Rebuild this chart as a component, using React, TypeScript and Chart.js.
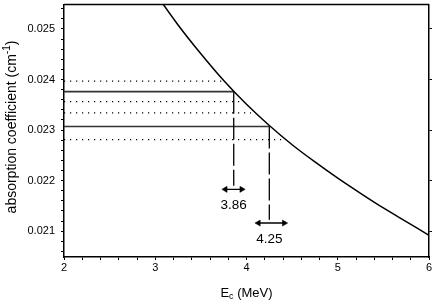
import { useEffect, useRef } from 'react';
import { Chart, registerables } from 'chart.js';

Chart.register(...registerables);

// Curve: absorption coefficient vs cut-off energy
const energies = [3.0, 3.25, 3.5, 3.75, 4.0, 4.25, 4.5, 4.75, 5.0, 5.25, 5.5, 5.75, 6.0];
const absorption = [0.02571, 0.02508, 0.02451, 0.02398, 0.02351, 0.02309, 0.02271, 0.02237, 0.02205, 0.02175, 0.02146, 0.02119, 0.02092];

// Marked points
const markE = [3.86, 4.25];
const markLabels = ['3.86', '4.25'];
const markA = [0.02376, 0.02307];
const aUpper = [0.02397, 0.02334];
const aLower = [0.023565, 0.02281];
const upperEnd = [3.74, 4.05];
const lowerEnd = [3.92, 4.4];
const dropEnd = [0.0219, 0.021225];
const arrowA = [0.021828, 0.021161];
const arrowLeft = [3.768, 4.131];
const arrowRight = [3.947, 4.413];

// Axes
const xMin = 2;
const xMax = 6;
const yMin = 0.02049;
const yMax = 0.025484;
const xTickLabels = ['2', '3', '4', '5', '6'];
const yTickLabels = ['0.021', '0.022', '0.023', '0.024', '0.025'];

const FONT = '"Liberation Sans", Arial, Helvetica, sans-serif';

function matchLabel(v: number, labels: string[]) {
  for (const l of labels) {
    if (Math.abs(parseFloat(l) - v) < 1e-8) return l;
  }
  return '';
}

const annotPlugin = {
  id: 'annot',
  afterDraw(chart: any) {
    const { ctx, chartArea: a, scales } = chart;
    ctx.save();
    // top frame line
    ctx.strokeStyle = '#000';
    ctx.lineWidth = 1.5;
    ctx.beginPath();
    ctx.moveTo(a.left, a.top);
    ctx.lineTo(a.right, a.top);
    ctx.stroke();

    ctx.fillStyle = '#000';
    ctx.textBaseline = 'middle';

    // Y title with superscript
    const main = 'absorption coefficient (cm';
    const sup = '-1';
    const close = ')';
    ctx.font = `14px ${FONT}`;
    const w1 = ctx.measureText(main).width;
    const w3 = ctx.measureText(close).width;
    ctx.font = `10px ${FONT}`;
    const w2 = ctx.measureText(sup).width;
    const total = w1 + w2 + w3;
    ctx.save();
    ctx.translate(12, 127);
    ctx.rotate(-Math.PI / 2);
    ctx.textAlign = 'left';
    const x0 = -total / 2;
    ctx.font = `14px ${FONT}`;
    ctx.fillText(main, x0, 0);
    ctx.font = `10px ${FONT}`;
    ctx.fillText(sup, x0 + w1, -5);
    ctx.font = `14px ${FONT}`;
    ctx.fillText(close, x0 + w1 + w2, 0);
    ctx.restore();

    // X title with subscript
    const e = 'E';
    const sub = 'c';
    const rest = ' (MeV)';
    ctx.font = `13px ${FONT}`;
    const ew = ctx.measureText(e).width;
    const rw = ctx.measureText(rest).width;
    ctx.font = `9px ${FONT}`;
    const sw = ctx.measureText(sub).width;
    const xt = (a.left + a.right) / 2 - (ew + sw + rw) / 2;
    const yt = 293;
    ctx.textAlign = 'left';
    ctx.font = `13px ${FONT}`;
    ctx.fillText(e, xt, yt);
    ctx.font = `9px ${FONT}`;
    ctx.fillText(sub, xt + ew, yt + 4);
    ctx.font = `13px ${FONT}`;
    ctx.fillText(rest, xt + ew + sw, yt);

    // mark labels
    ctx.textAlign = 'center';
    ctx.font = `13.5px ${FONT}`;
    for (let i = 0; i < markE.length; i++) {
      const px = scales.x.getPixelForValue(markE[i]);
      const py = scales.y.getPixelForValue(arrowA[i]) + 16;
      ctx.fillText(markLabels[i], px, py);
    }
    ctx.restore();
  },
};

export default function App() {
  const ref = useRef<HTMLCanvasElement>(null);

  useEffect(() => {
    document.body.style.margin = '0';
    const canvas = ref.current;
    if (!canvas) return;

    const datasets: any[] = [];
    datasets.push({
      data: energies.map((x, i) => ({ x, y: absorption[i] })),
      borderColor: '#000',
      borderWidth: 1.5,
      pointRadius: 0,
      cubicInterpolationMode: 'monotone',
      fill: false,
    });
    for (let i = 0; i < markE.length; i++) {
      datasets.push({
        data: [{ x: xMin, y: markA[i] }, { x: markE[i], y: markA[i] }],
        borderColor: '#333',
        borderWidth: 1.6,
        pointRadius: 0,
      });
      datasets.push({
        data: [{ x: xMin, y: aUpper[i] }, { x: upperEnd[i], y: aUpper[i] }],
        borderColor: '#000',
        borderWidth: 1.2,
        borderDash: [1.2, 4.8],
        pointRadius: 0,
      });
      datasets.push({
        data: [{ x: xMin, y: aLower[i] }, { x: lowerEnd[i], y: aLower[i] }],
        borderColor: '#000',
        borderWidth: 1.2,
        borderDash: [1.2, 4.8],
        pointRadius: 0,
      });
      datasets.push({
        data: [{ x: markE[i], y: markA[i] }, { x: markE[i], y: dropEnd[i] }],
        borderColor: '#000',
        borderWidth: 1.3,
        borderDash: [22, 4],
        pointRadius: 0,
      });
      datasets.push({
        data: [{ x: arrowLeft[i], y: arrowA[i] }, { x: arrowRight[i], y: arrowA[i] }],
        borderColor: '#000',
        borderWidth: 1.4,
        pointStyle: 'triangle',
        pointRadius: 3.5,
        pointBackgroundColor: '#000',
        pointBorderColor: '#000',
        pointBorderWidth: 0.5,
        pointRotation: (c: any) => (c.dataIndex === 0 ? -90 : 90),
      });
    }

    const gridOpts = {
      display: true,
      drawOnChartArea: false,
      drawTicks: true,
      tickLength: 3,
      tickColor: '#000',
      tickWidth: 1,
    };
    const borderOpts = { display: true, color: '#000', width: 1.5 };

    const chart = new Chart(canvas, {
      type: 'line',
      data: { datasets },
      plugins: [annotPlugin],
      options: {
        animation: false,
        responsive: false,
        events: [],
        layout: { padding: { top: 2, left: 0, right: 0, bottom: 0 } },
        plugins: { legend: { display: false }, tooltip: { enabled: false } },
        scales: {
          x: {
            type: 'linear',
            position: 'bottom',
            min: xMin,
            max: xMax,
            afterFit: (s: any) => {
              s.height = 49;
              s.paddingLeft = 0;
              s.paddingRight = 0;
            },
            ticks: {
              stepSize: 0.2,
              autoSkip: false,
              maxRotation: 0,
              padding: 1,
              color: '#000',
              font: { family: FONT, size: 11 },
              callback: (v: any) => matchLabel(Number(v), xTickLabels),
            },
            grid: gridOpts,
            border: borderOpts,
          },
          y: {
            type: 'linear',
            position: 'left',
            min: yMin,
            max: yMax,
            afterFit: (s: any) => {
              s.width = 64;
              s.paddingTop = 0;
              s.paddingBottom = 0;
            },
            ticks: {
              stepSize: 0.0002,
              includeBounds: false,
              autoSkip: false,
              padding: 6,
              color: '#000',
              font: { family: FONT, size: 11 },
              callback: (v: any) => matchLabel(Number(v), yTickLabels),
            },
            grid: gridOpts,
            border: borderOpts,
          },
          y2: {
            type: 'linear',
            position: 'right',
            min: yMin,
            max: yMax,
            afterFit: (s: any) => {
              s.width = 7;
              s.paddingTop = 0;
              s.paddingBottom = 0;
            },
            ticks: {
              stepSize: 0.001,
              includeBounds: false,
              autoSkip: false,
              padding: 0,
              font: { family: FONT, size: 11 },
              callback: () => '',
            },
            grid: gridOpts,
            border: borderOpts,
          },
        },
      } as any,
    });

    return () => chart.destroy();
  }, []);

  return (
    <div style={{ width: 436, height: 306 }}>
      <canvas ref={ref} width={436} height={306} style={{ display: 'block' }} />
    </div>
  );
}
